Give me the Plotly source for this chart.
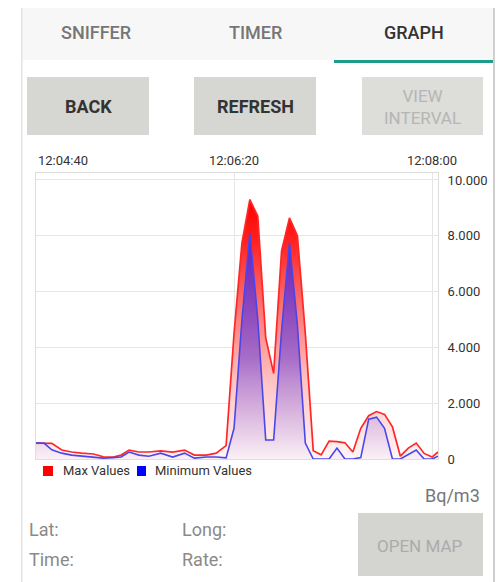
import plotly.graph_objects as go

# ---------------- data ----------------
seconds = [0, 4, 8, 13, 18, 23, 29, 34, 39, 43, 47, 52, 57, 63, 69, 75, 80, 86, 91, 96,
           100, 104, 108, 112, 116, 120, 124, 128, 132, 136, 140, 144, 148, 152, 156, 160,
           164, 168, 172, 176, 180, 184, 188, 192, 196, 200, 203]
max_values = [570, 570, 560, 320, 250, 210, 180, 80, 70, 140, 320, 250, 250, 290, 250, 320, 140, 140, 210, 480,
              4500, 7750, 9300, 8700, 4350, 3070, 7460, 8640, 8000, 4500, 300, 150, 640, 620, 580, 250,
              1100, 1550, 1700, 1600, 1150, 100, 390, 570, 200, 70, 250]
min_values = [570, 570, 330, 210, 140, 100, 70, 30, 50, 70, 250, 140, 100, 210, 70, 210, 30, 70, 70, 40,
              1100, 5000, 8100, 5000, 680, 680, 4600, 7750, 4800, 570, 0, 0, 0, 390, 0, 0,
              50, 1430, 1500, 1100, 0, 0, 150, 320, 0, 0, 100]

x_tick_vals = [0, 100, 200]
x_tick_text = ["12:04:40", "12:06:20", "12:08:00"]
y_tick_vals = [0, 2000, 4000, 6000, 8000, 10000]
y_tick_text = ["0", "2.000", "4.000", "6.000", "8.000", "10.000"]
series_names = ["Max Values", "Minimum Values"]
tabs = ["SNIFFER", "TIMER", "GRAPH"]

# ---------------- geometry helpers (window pixel coords) ----------------
OFF = 8                     # page body margin
WIN_W, WIN_H = 503, 582
W, H = WIN_W - OFF, WIN_H - OFF
PLOT_X0, PLOT_X1, PLOT_Y0, PLOT_Y1 = 36, 438, 173, 459
L = PLOT_X0 - OFF
T = PLOT_Y0 - OFF
R = W - (PLOT_X1 - OFF)
B = H - (PLOT_Y1 - OFF)
PW = PLOT_X1 - PLOT_X0
PH = PLOT_Y1 - PLOT_Y0


def px(x):
    return (x - PLOT_X0) / PW


def py(y):
    return (PLOT_Y1 - y) / PH


FONT = "Roboto"

fig = go.Figure()

fig.add_trace(go.Scatter(
    x=seconds, y=max_values, name=series_names[0], mode="lines",
    line=dict(color="rgb(255,40,40)", width=1.7),
    fill="tozeroy",
    fillgradient=dict(type="vertical", colorscale=[
        [0.0, "rgba(255,246,246,1)"],
        [0.3, "rgba(255,195,195,1)"],
        [0.6, "rgba(255,110,110,1)"],
        [0.85, "rgba(255,30,30,1)"],
        [1.0, "rgba(255,0,0,1)"]]),
    showlegend=False,
))
fig.add_trace(go.Scatter(
    x=seconds, y=min_values, name=series_names[1], mode="lines",
    line=dict(color="rgb(75,70,235)", width=1.6),
    fill="tozeroy",
    fillgradient=dict(type="vertical", colorscale=[
        [0.0, "rgba(130,110,255,0.04)"],
        [0.45, "rgba(95,60,225,0.55)"],
        [1.0, "rgba(70,40,225,0.88)"]]),
    showlegend=False,
))

shapes = []
annotations = []


def rect(x0, y0, x1, y1, color):
    shapes.append(dict(type="rect", xref="paper", yref="paper",
                       x0=px(x0), x1=px(x1), y0=py(y1), y1=py(y0),
                       fillcolor=color, line=dict(width=0, color=color),
                       layer="above"))


def text(x, y, s, size=18, color="#757575", xanchor="center", weight="normal"):
    annotations.append(dict(xref="paper", yref="paper", x=px(x), y=py(y), text=s,
                            showarrow=False, xanchor=xanchor, yanchor="middle",
                            font=dict(family=FONT, size=size, color=color, weight=weight)))


# tab bar
rect(22, 0, 493, 60, "#F7F7F7")
rect(334, 60, 493, 63, "#1E9C8C")
text(96, 33, tabs[0], 18, "#767676", weight=500)
text(256, 33, tabs[1], 18, "#767676", weight=500)
text(414, 33, tabs[2], 18, "#333333", weight=500)

# card edges
rect(21, 0, 22.5, 582, "#E4E4E4")
rect(493, 0, 497, 582, "#CFCFCF")

# buttons
rect(27, 77, 149, 135, "#D6D6D2")
rect(194, 77, 316, 135, "#D6D6D2")
rect(362, 77, 483, 135, "#DDDDDA")
text(88, 107, "BACK", 18, "#333333", weight="bold")
text(255, 107, "REFRESH", 18, "#333333", weight="bold")
text(422, 107, "VIEW<br>INTERVAL", 17, "#B5B5B5")

# x tick labels on top
for i, (v, t) in enumerate(zip(x_tick_vals, x_tick_text)):
    annotations.append(dict(xref="x", yref="paper", x=v, y=py(160), text=t, showarrow=False,
                            xanchor="left" if i == 0 else "center", yanchor="middle",
                            font=dict(family=FONT, size=13, color="#333333")))

# legend
rect(43, 466, 53, 476, "#FF0000")
text(61, 470, series_names[0], 13, "#333333", xanchor="left")
rect(137, 466, 146, 476, "#0000FF")
text(153, 470, series_names[1], 13, "#333333", xanchor="left")

# bottom texts
text(482, 495, "Bq/m3", 18, "#777777", xanchor="right")
text(27, 529, "Lat:", 18, "#8A8A8A", xanchor="left")
text(180, 529, "Long:", 18, "#8A8A8A", xanchor="left")
text(27, 559, "Time:", 18, "#8A8A8A", xanchor="left")
text(180, 559, "Rate:", 18, "#8A8A8A", xanchor="left")
rect(358, 513, 483, 576, "#D4D4D0")
text(420, 546, "OPEN MAP", 17, "#ABABAB")

fig.update_layout(
    width=W, height=H,
    margin=dict(l=L, r=R, t=T, b=B, pad=0),
    paper_bgcolor="white", plot_bgcolor="white",
    font=dict(family=FONT, size=13, color="#333333"),
    shapes=shapes, annotations=annotations,
    showlegend=False,
    xaxis=dict(range=[0, 203], tickvals=x_tick_vals, showticklabels=False,
               showgrid=True, gridcolor="#E6E6E6", gridwidth=1, zeroline=False,
               showline=True, linecolor="#DDDDDD", linewidth=1, mirror=True, ticks=""),
    yaxis=dict(range=[0, 10250], side="right", tickvals=y_tick_vals, ticktext=y_tick_text,
               showgrid=True, gridcolor="#E6E6E6", gridwidth=1, zeroline=False,
               showline=True, linecolor="#DDDDDD", linewidth=1, mirror=True, ticks="",
               ticklabelstandoff=6,
               tickfont=dict(family=FONT, size=13, color="#333333")),
)

fig.write_html("out.html")
